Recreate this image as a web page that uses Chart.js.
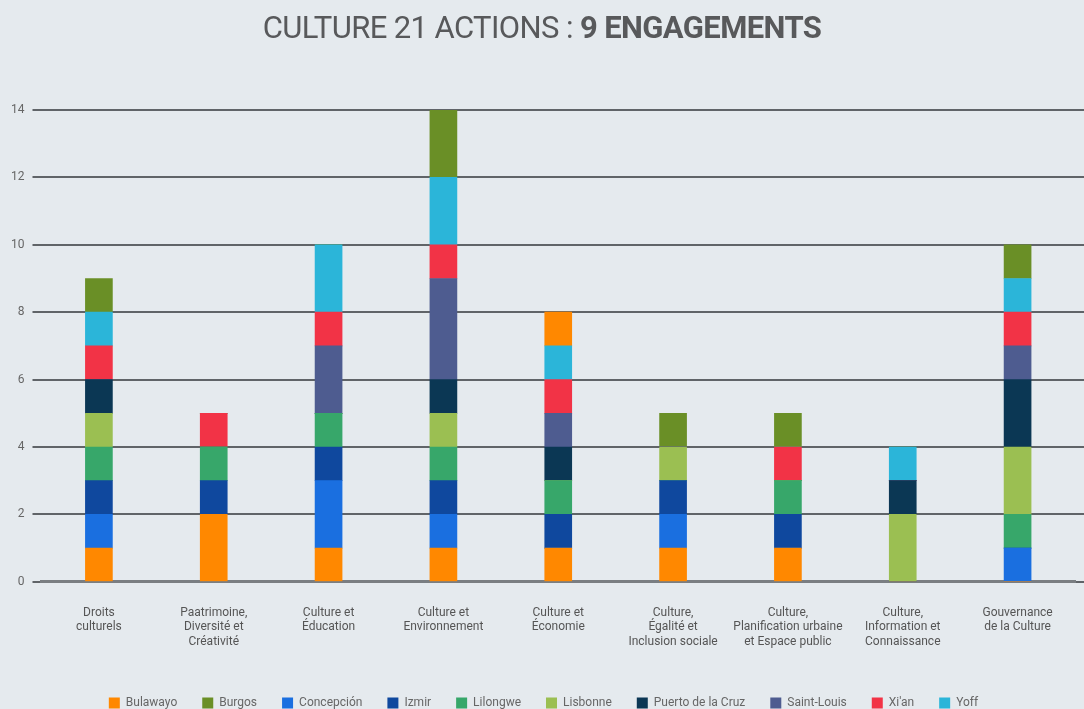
<!DOCTYPE html>
<html lang="fr">
<head>
    <meta charset="UTF-8">
    <title>Culture 21 Actions</title>
    <style>
        body {
            margin: 0;
            background-color: #e5eaee;
            font-family: Roboto, sans-serif;
        }
        .wrap {
            position: relative;
            width: 1084px;
            height: 709px;
        }
        h1 {
            position: absolute;
            top: 9px;
            left: 0;
            width: 100%;
            margin: 0;
            text-align: center;
            font-size: 31px;
            font-weight: 400;
            color: #58595b;
            letter-spacing: -0.6px;
        }
        h1 b { font-weight: 700; }
    </style>
    <script src="https://cdn.jsdelivr.net/npm/chart.js"></script>
</head>
<body>
<div class="wrap">
    <h1>CULTURE 21 ACTIONS : <b>9 ENGAGEMENTS</b></h1>
    <canvas id="engagements" width="1084" height="709"></canvas>
</div>
<script>
// engagements (categories)
const categories = [
    ['Droits', 'culturels'],
    ['Paatrimoine,', 'Diversité et', 'Créativité'],
    ['Culture et', 'Éducation'],
    ['Culture et', 'Environnement'],
    ['Culture et', 'Économie'],
    ['Culture,', 'Égalité et', 'Inclusion sociale'],
    ['Culture,', 'Planification urbaine', 'et Espace public'],
    ['Culture,', 'Information et', 'Connaissance'],
    ['Gouvernance', 'de la Culture']
];

// villes, dans l'ordre de la légende
const cities = ['Bulawayo', 'Burgos', 'Concepción', 'Izmir', 'Lilongwe', 'Lisbonne', 'Puerto de la Cruz', 'Saint-Louis', "Xi'an", 'Yoff'];

const bulawayo   = [1, 2, 1, 1, 1, 1, 1, 0, 0];
const burgos     = [1, 0, 0, 2, 1, 1, 1, 0, 1];
const concepcion = [1, 0, 2, 1, 0, 1, 0, 0, 1];
const izmir      = [1, 1, 1, 1, 1, 1, 1, 0, 0];
const lilongwe   = [1, 1, 1, 1, 1, 0, 1, 0, 1];
const lisbonne   = [1, 0, 0, 1, 0, 1, 0, 2, 2];
const puerto     = [1, 0, 0, 1, 1, 0, 0, 1, 2];
const saintLouis = [0, 0, 2, 3, 1, 0, 0, 0, 1];
const xian       = [1, 1, 1, 1, 1, 0, 1, 0, 1];
const yoff       = [1, 0, 2, 2, 1, 0, 0, 1, 1];

const yTicks = [0, 2, 4, 6, 8, 10, 12, 14];

const colors = {
    'Bulawayo': '#ff8800',
    'Burgos': '#6a8f26',
    'Concepción': '#1a6fe0',
    'Izmir': '#0f489e',
    'Lilongwe': '#37a76a',
    'Lisbonne': '#9bbf52',
    'Puerto de la Cruz': '#0b3754',
    'Saint-Louis': '#4e5c90',
    "Xi'an": '#f23346',
    'Yoff': '#2bb5d9'
};

const values = {
    'Bulawayo': bulawayo, 'Burgos': burgos, 'Concepción': concepcion, 'Izmir': izmir,
    'Lilongwe': lilongwe, 'Lisbonne': lisbonne, 'Puerto de la Cruz': puerto,
    'Saint-Louis': saintLouis, "Xi'an": xian, 'Yoff': yoff
};

// ordre d'empilement (du bas vers le haut), Burgos toujours en haut
const stackOrder = ['Bulawayo', 'Concepción', 'Izmir', 'Lilongwe', 'Lisbonne', 'Puerto de la Cruz', 'Saint-Louis', "Xi'an", 'Yoff', 'Burgos'];

const datasets = cities.map(function (name) {
    let bg = colors[name];
    if (name === 'Burgos') {
        // dans l'original le segment du haut de "Culture et Économie" est orange
        bg = categories.map((c, i) => i === 4 ? colors['Bulawayo'] : colors['Burgos']);
    }
    return {
        label: name,
        data: values[name],
        backgroundColor: bg,
        borderWidth: 0,
        barThickness: 27,
        order: stackOrder.indexOf(name)
    };
});

const gridColor = '#606468';

new Chart(document.getElementById('engagements'), {
    type: 'bar',
    data: { labels: categories, datasets: datasets },
    options: {
        responsive: false,
        animation: false,
        layout: { padding: { top: 110, left: 3, right: 0, bottom: -10 } },
        plugins: {
            legend: {
                position: 'bottom',
                labels: {
                    boxWidth: 11,
                    boxHeight: 11,
                    padding: 25,
                    color: '#666',
                    font: { family: 'Roboto', size: 12 },
                    sort: (a, b) => a.datasetIndex - b.datasetIndex
                }
            },
            tooltip: { enabled: false }
        },
        scales: {
            x: {
                stacked: true,
                grid: { display: false },
                border: { display: true, color: '#7a7e82', width: 3 },
                ticks: {
                    color: '#555',
                    font: { family: 'Roboto', size: 12 },
                    padding: 16,
                    maxRotation: 0,
                    autoSkip: false
                },
                afterFit: (axis) => { axis.height += 7; }
            },
            y: {
                stacked: true,
                min: 0,
                max: 14,
                afterBuildTicks: (axis) => { axis.ticks = yTicks.map(v => ({ value: v })); },
                grid: { color: gridColor, lineWidth: 2, tickLength: 9 },
                border: { display: false },
                ticks: {
                    color: '#666',
                    font: { family: 'Roboto', size: 12 },
                    padding: 8
                }
            },
            yRight: {
                position: 'right',
                display: true,
                min: 0,
                max: 14,
                afterBuildTicks: (axis) => { axis.ticks = yTicks.map(v => ({ value: v })); },
                grid: { drawOnChartArea: false, color: gridColor, lineWidth: 2, tickLength: 9 },
                border: { display: false },
                ticks: { display: false }
            }
        }
    }
});
</script>
</body>
</html>
